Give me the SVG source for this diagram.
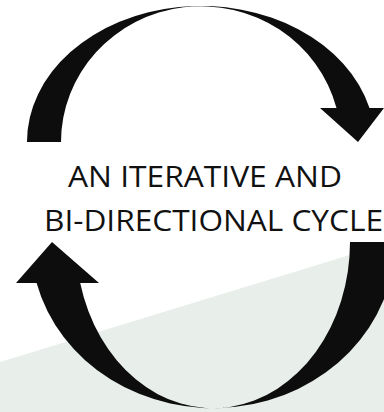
<svg xmlns="http://www.w3.org/2000/svg" width="384" height="412" viewBox="0 0 384 412">
  <style>
    .arrow { fill: #0d0d0d; stroke: none; }
    .label { font-family: "Open Sans", "Liberation Sans", sans-serif; font-size: 30px; fill: #111111; text-anchor: middle; }
  </style>
  <rect x="0" y="0" width="384" height="412" fill="#ffffff"/>
  <g id="background">
    <polygon points="0,362 384,244.6 384,412 0,412" fill="#e8efea"/>
  </g>
  <g id="connectors">
    <path id="top-arrow" class="arrow" d="M27,142 A174,136 0 0 1 369.5,108 L384,108 L358,142 L320,108 L336.5,108 A140,136 0 0 0 61,142 Z"/>
    <path id="bottom-arrow" class="arrow" d="M36.6,283 L16,283 L52,242 L99,283 L80.2,283 A137,166 0 0 0 350,242 L395,242 A182,166 0 0 1 36.6,283 Z"/>
  </g>
  <g id="label">
    <text class="label" x="205" y="187" textLength="274" lengthAdjust="spacingAndGlyphs">AN ITERATIVE AND</text>
    <text class="label" x="213.5" y="231" textLength="339" lengthAdjust="spacingAndGlyphs">BI-DIRECTIONAL CYCLE</text>
  </g>
</svg>
